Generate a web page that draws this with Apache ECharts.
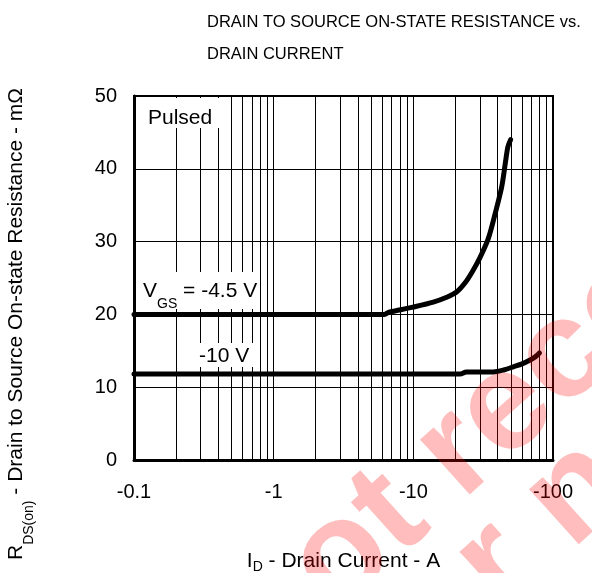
<!DOCTYPE html>
<html>
<head>
<meta charset="utf-8">
<script src="https://cdn.jsdelivr.net/npm/echarts@6/dist/echarts.min.js"></script>
<style>
  html, body { margin: 0; padding: 0; background: #fff; }
  #chart { width: 592px; height: 573px; }
</style>
</head>
<body>
<div id="chart"></div>
<script>
// drain current magnitude (A)
const idVgs45 = [0.1, 1, 6.2, 6.7, 7.5, 9.9, 13.9, 17.5, 20.5, 23.4, 26.5, 30, 34.4, 38.6, 42.9, 45.6, 47.5, 49.7];
const rdsVgs45 = [20, 20, 20, 20.3, 20.5, 21.0, 21.7, 22.4, 23.1, 24.3, 25.9, 27.8, 30.4, 33.9, 37.5, 40.8, 43.0, 44];

const idVgs10 = [0.1, 1, 10, 21.6, 24, 30, 37.4, 45, 52, 60, 68, 75, 80];
const rdsVgs10 = [11.8, 11.8, 11.8, 11.8, 12.1, 12.1, 12.1, 12.4, 12.8, 13.2, 13.7, 14.2, 14.7];

// minor log grid lines (2..9 per decade)
const minorTicks = [0.2, 0.3, 0.4, 0.5, 0.6, 0.7, 0.8, 0.9, 2, 3, 4, 5, 6, 7, 8, 9, 20, 30, 40, 50, 60, 70, 80, 90];

const yTicks = { min: 0, max: 50, step: 10 };
const xTicks = { min: 0.1, max: 100 };

const FONT = '"Liberation Sans", Arial, sans-serif';
const WM_ANGLE = 42 * Math.PI / 180;
const WM_FILL = 'rgba(255,0,0,0.26)';

const chart = echarts.init(document.getElementById('chart'), null, { renderer: 'canvas' });

const zip = (xs, ys) => xs.map((x, i) => [x, ys[i]]);

// main text + subscript, sub dropped by `drop` px
const subRich = drop => ({
    m: { fontSize: 21, fontFamily: FONT, color: '#000', lineHeight: 24, verticalAlign: 'top' },
    s: { fontSize: 14, fontFamily: FONT, color: '#000', lineHeight: 14, verticalAlign: 'top', padding: [drop, 0, 0, 0] }
});

const option = {
    animation: false,
    backgroundColor: '#fff',
    title: {
        text: 'DRAIN TO SOURCE ON-STATE RESISTANCE vs.\nDRAIN CURRENT',
        left: 207,
        top: 6,
        padding: 0,
        textStyle: {
            fontFamily: FONT,
            fontSize: 16.5,
            fontWeight: 'normal',
            color: '#000',
            lineHeight: 32
        }
    },
    grid: {
        left: 134,
        right: 39,
        top: 96,
        bottom: 113,
        outerBoundsMode: 'none',
        containLabel: false,
        show: true,
        borderColor: '#000',
        borderWidth: 2
    },
    xAxis: {
        type: 'log',
        logBase: 10,
        min: xTicks.min,
        max: xTicks.max,
        axisLine: { show: true, lineStyle: { color: '#000', width: 3 } },
        axisTick: { show: false },
        axisLabel: {
            margin: 22,
            fontSize: 20,
            fontFamily: FONT,
            color: '#000',
            formatter: v => '-' + (+v.toPrecision(3))
        },
        splitLine: { show: true, lineStyle: { color: '#000', width: 1 } },
        name: '{m|I}{s|D}{m| - Drain Current - A}',
        nameLocation: 'middle',
        nameGap: 91,
        nameTextStyle: { rich: subRich(9) }
    },
    yAxis: {
        type: 'value',
        min: yTicks.min,
        max: yTicks.max,
        interval: yTicks.step,
        axisLine: { show: true, lineStyle: { color: '#000', width: 3 } },
        axisTick: { show: false },
        axisLabel: {
            margin: 17,
            fontSize: 20,
            fontFamily: FONT,
            color: '#000'
        },
        splitLine: { show: true, lineStyle: { color: '#000', width: 1 } }
    },
    series: [
        {
            type: 'line',
            data: [],
            z: 1,
            markLine: {
                silent: true,
                symbol: 'none',
                label: { show: false },
                lineStyle: { color: '#000', width: 1, type: 'solid' },
                data: minorTicks.map(v => ({ xAxis: v }))
            }
        },
        {
            type: 'line',
            data: zip(idVgs45, rdsVgs45),
            smooth: 0.3,
            showSymbol: false,
            z: 3,
            lineStyle: { color: '#000', width: 5, cap: 'round', join: 'round' }
        },
        {
            type: 'line',
            data: zip(idVgs10, rdsVgs10),
            smooth: 0.3,
            showSymbol: false,
            z: 3,
            lineStyle: { color: '#000', width: 5, cap: 'round', join: 'round' }
        }
    ],
    graphic: [
        // white label boxes over the grid
        { type: 'rect', z: 10, silent: true, shape: { x: 137, y: 98, width: 84, height: 30 }, style: { fill: '#fff' } },
        { type: 'text', z: 11, silent: true, x: 148, y: 118, style: { text: 'Pulsed', font: '21px ' + FONT, fill: '#000', verticalAlign: 'middle' } },
        { type: 'rect', z: 10, silent: true, shape: { x: 136, y: 272, width: 122, height: 37 }, style: { fill: '#fff' } },
        { type: 'text', z: 11, silent: true, x: 143, y: 293, style: { text: '{m|V}{s|GS}{m| = -4.5 V}', rich: subRich(16), verticalAlign: 'middle' } },
        { type: 'rect', z: 10, silent: true, shape: { x: 196, y: 343, width: 60, height: 24 }, style: { fill: '#fff' } },
        { type: 'text', z: 11, silent: true, x: 199, y: 356, style: { text: '-10 V', font: '21px ' + FONT, fill: '#000', verticalAlign: 'middle' } },
        // y axis title
        {
            type: 'text', z: 11, silent: true, x: 18, y: 324, rotation: Math.PI / 2,
            style: {
                text: '{m|R}{s|DS(on)}{m| - Drain to Source On-state Resistance - mΩ}',
                rich: subRich(16), align: 'center', verticalAlign: 'middle'
            }
        },
        // watermark
        {
            type: 'text', z: 100, silent: true, x: 246, y: 644, rotation: WM_ANGLE,
            style: { text: 'not recommended', font: 'bold 140px ' + FONT, fill: WM_FILL, verticalAlign: 'middle' }
        },
        {
            type: 'text', z: 100, silent: true, x: 378, y: 673, rotation: WM_ANGLE,
            style: { text: 'for new design', font: 'bold 140px ' + FONT, fill: WM_FILL, verticalAlign: 'middle' }
        }
    ]
};

chart.setOption(option);
</script>
</body>
</html>
